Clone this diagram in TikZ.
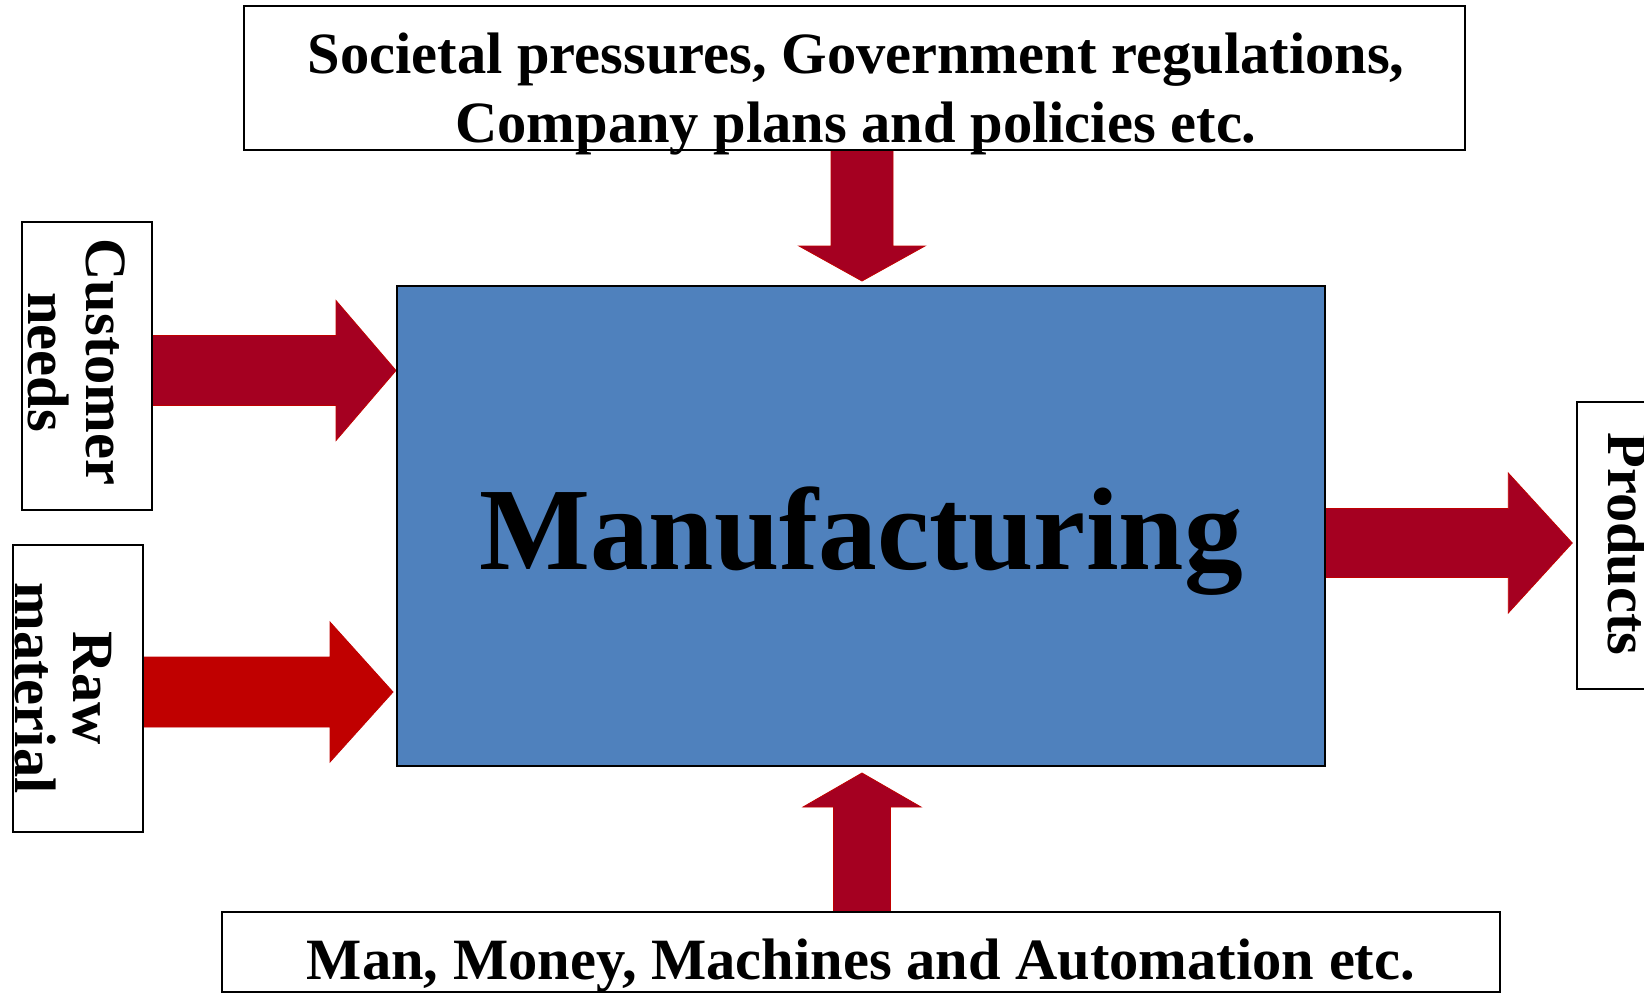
\documentclass[tikz,border=0pt]{standalone}
\usepackage{fontspec}
\setmainfont{Liberation Serif}
\usetikzlibrary{calc}
\definecolor{arrowred}{HTML}{A50021}
\definecolor{rawred}{HTML}{C00000}
\definecolor{mfgblue}{HTML}{4F81BD}
\pgfdeclarelayer{bg}
\pgfsetlayers{bg,main}
\begin{document}
\begin{tikzpicture}[x=1pt,y=1pt,
  tbox/.style={draw=black, line width=1.5pt, fill=white, inner sep=0pt},
  mbox/.style={draw=black, line width=2pt, fill=mfgblue, inner sep=0pt},
  biglbl/.style={font=\fontsize{58.5}{69}\selectfont\bfseries, inner sep=0pt, align=center},
  sidelbl/.style={font=\fontsize{58.5}{58}\selectfont\bfseries, inner sep=0pt, align=center, rotate=-90},
  darkarrow/.style={fill=arrowred, draw=rawred, line width=0.8pt},
  rawarrow/.style={fill=rawred, draw=rawred, line width=0.8pt},
  blockarrow/.style n args={3}{to path={
    ($(\tikztostart)!#1!90:(\tikztotarget)$)
    -- ($(\tikztotarget)!#3!(\tikztostart)!#1!90:(\tikztotarget)$)
    -- ($(\tikztotarget)!#3!(\tikztostart)!#2!90:(\tikztotarget)$)
    -- (\tikztotarget)
    -- ($(\tikztotarget)!#3!(\tikztostart)!#2!-90:(\tikztotarget)$)
    -- ($(\tikztotarget)!#3!(\tikztostart)!#1!-90:(\tikztotarget)$)
    -- ($(\tikztostart)!#1!-90:(\tikztotarget)$) -- cycle}}]
\useasboundingbox (0,0) rectangle (1644,-994);

% boxes
\node[tbox, minimum width=1221pt, minimum height=144pt] (topbox) at (854.5,-78) {};
\node[mbox, minimum width=928pt, minimum height=480pt] (main) at (861,-526) {};
\node[tbox, minimum width=130pt, minimum height=288pt] (cbox) at (87,-366) {};
\node[tbox, minimum width=130pt, minimum height=287pt] (rbox) at (78,-688.5) {};
\node[tbox, minimum width=130pt, minimum height=287pt] (pbox) at (1642,-545.5) {};
\node[tbox, minimum width=1278pt, minimum height=80pt] (botbox) at (861,-952) {};

% texts
\node[biglbl] (toptext) at (856,-93.6) {Societal pressures, Government regulations,\\Company plans and policies etc.};
\node[font=\fontsize{117.5}{130}\selectfont\bfseries, inner sep=0pt, anchor=base] (mfgtext) at (861,-569) {Manufacturing};
\node[biglbl, anchor=base] (bottext) at (861,-979) {Man, Money, Machines and Automation etc.};
\node[sidelbl] (ctext) at (76.7,-362) {Customer\\needs};
\node[sidelbl] (rtext) at (63.7,-688) {Raw\\material};
\node[sidelbl, anchor=base] (ptext) at (1608,-544) {Products};

% arrow end points
\coordinate (cuS) at (cbox.east |- 0,-370.5);
\coordinate (cuT) at (main.west |- 0,-370.5);
\coordinate (raS) at (rbox.east |- 0,-692);
\coordinate (raT) at ($(main.west |- 0,-692)+(-3,0)$);
\coordinate (prS) at (main.east |- 0,-543);
\coordinate (prT) at ($(pbox.west |- 0,-543)+(-4,0)$);
\coordinate (toS) at (topbox.south -| 862,0);
\coordinate (toT) at ($(main.north -| 862,0)+(0,4)$);
\coordinate (boS) at (botbox.north -| 862,0);
\coordinate (boT) at ($(main.south -| 862,0)+(0,-6)$);

\begin{pgfonlayer}{bg}
\path[darkarrow, blockarrow={35pt}{70pt}{60pt}] (cuS) to (cuT);
\path[rawarrow, blockarrow={35pt}{70pt}{63pt}] (raS) to (raT);
\path[darkarrow, blockarrow={34.5pt}{70pt}{64pt}] (prS) to (prT);
\path[darkarrow, blockarrow={31pt}{63pt}{35pt}] (toS) to (toT);
\path[darkarrow, blockarrow={28.5pt}{59pt}{34pt}] (boS) to (boT);
\end{pgfonlayer}
\end{tikzpicture}
\end{document}
